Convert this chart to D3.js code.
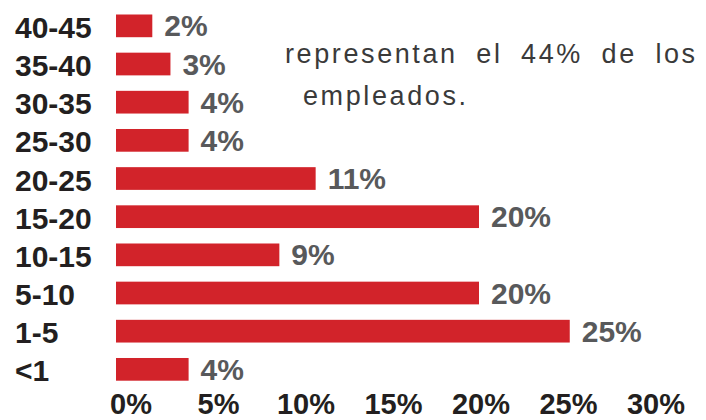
<!DOCTYPE html>
<html><head><meta charset="utf-8">
<script src="https://cdn.jsdelivr.net/npm/d3@7"></script>
<style>html,body{margin:0;padding:0;background:#fff;overflow:hidden}</style>
</head><body><svg id="chart" width="706" height="420"></svg>
<script>
const categories = ["40-45","35-40","30-35","25-30","20-25","15-20","10-15","5-10","1-5","<1"];
const values = [2,3,4,4,11,20,9,20,25,4];
const tickValues = [0,5,10,15,20,25,30];
const noteLines = ["representan el 44% de los","empleados."];

const svg = d3.select("#chart");
const FONT = "'Liberation Sans', Arial, Helvetica, sans-serif";
const x = d3.scaleLinear().domain([0,30]).range([116, 660.5]);
const y = d3.scaleBand().domain(categories).range([14.5, 380.7]).paddingInner(0.405).paddingOuter(0);
const xAxisScale = d3.scaleLinear().domain([0,30]).range([130.5, 655.5]);
const bw = y.bandwidth();

svg.selectAll("rect.bar").data(categories).join("rect")
  .attr("class","bar")
  .attr("x", x(0))
  .attr("y", d => y(d))
  .attr("width", (d,i) => x(values[i]) - x(0))
  .attr("height", bw)
  .attr("fill", "#d2232a");

svg.selectAll("text.cat").data(categories).join("text")
  .attr("class","cat")
  .attr("x", 15)
  .attr("y", d => y(d) + bw/2 + 12)
  .attr("font-family", FONT).attr("font-weight","bold").attr("font-size", 30)
  .attr("fill", "#231f20")
  .text(d => d);

svg.selectAll("text.val").data(categories).join("text")
  .attr("class","val")
  .attr("x", (d,i) => x(values[i]) + 12)
  .attr("y", d => y(d) + bw/2 + 10.5)
  .attr("font-family", FONT).attr("font-weight","bold").attr("font-size", 30)
  .attr("fill", "#58595b")
  .text((d,i) => values[i] + "%");

const ax = svg.append("g").attr("transform","translate(0,414)")
  .call(d3.axisBottom(xAxisScale).tickValues(tickValues).tickFormat(d => d + "%").tickSize(0));
ax.select(".domain").remove();
ax.selectAll("text")
  .attr("y", 0).attr("dy", 0)
  .attr("font-family", FONT).attr("font-weight","bold").attr("font-size", 29)
  .attr("fill", "#231f20");

const notePos = [[285, 63, 8.5], [303, 105, 0]];
svg.selectAll("text.note").data(noteLines).join("text")
  .attr("class","note")
  .attr("x", (d,i) => notePos[i][0])
  .attr("y", (d,i) => notePos[i][1])
  .attr("font-family", FONT).attr("font-size", 27)
  .attr("letter-spacing", 2.6)
  .attr("word-spacing", (d,i) => notePos[i][2])
  .attr("fill", "#3a3a3a")
  .text(d => d);
</script>
</body></html>
